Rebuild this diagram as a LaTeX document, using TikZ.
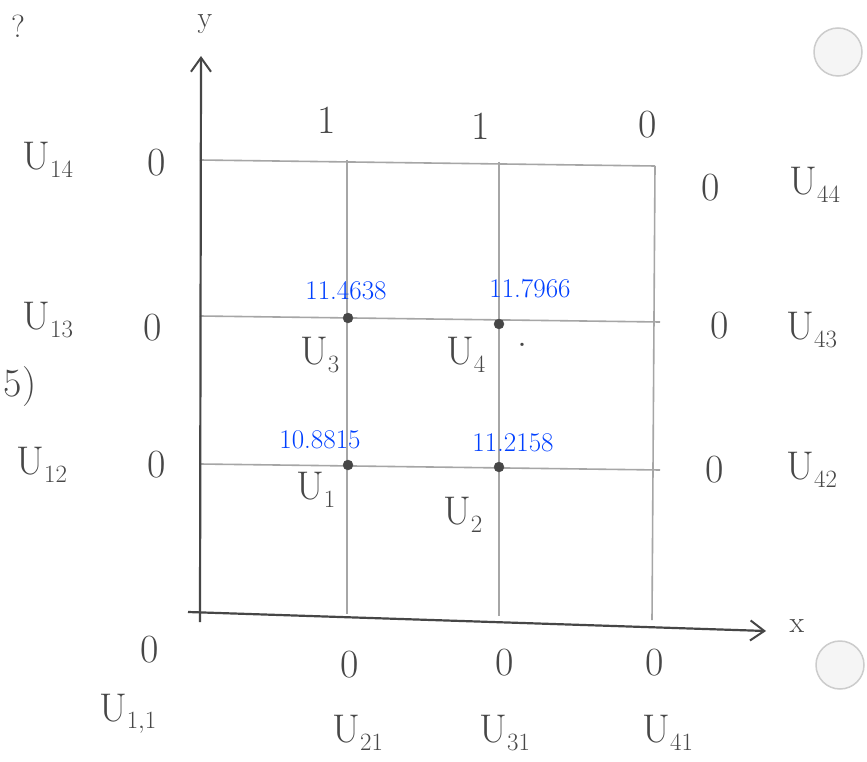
\documentclass[tikz,border=0pt]{standalone}
\usepackage{fontspec}
\usetikzlibrary{arrows.meta}
\begin{document}
\begin{tikzpicture}[x=1pt,y=-1pt,
  gridline/.style={draw=gray!70, line width=1.6pt},
  axisline/.style={draw=gray!55!black, line width=2.2pt, -{Straight Barb[length=14pt,width=20pt,line width=2pt]}},
  lab/.style={font=\fontsize{40}{40}\selectfont, text=black!72, inner sep=0},
  val/.style={font=\fontsize{27}{27}\selectfont, text=blue!75!cyan, inner sep=0},
  gpt/.style={circle, fill=gray!55!black, draw=black!70, inner sep=0, minimum size=10pt},
  hole/.style={circle, draw=gray!40, fill=gray!8, line width=1.5pt, minimum size=48pt, inner sep=0}]
\useasboundingbox (0,0) rectangle (867,762);
\fill[white] (0,0) rectangle (867,762);
% grid coordinates
\coordinate (a0) at (200,160); \coordinate (a1) at (347,160); \coordinate (a2) at (499,162); \coordinate (a3) at (655,166);
\coordinate (b0) at (200,316); \coordinate (b3) at (660,322);
\coordinate (c0) at (200,464); \coordinate (c3) at (660,470);
\coordinate (d1) at (347,614); \coordinate (d2) at (499,616); \coordinate (d3) at (652,620);
\coordinate (ystart) at (200,622); \coordinate (ytip) at (201,56);
\coordinate (xstart) at (188,612); \coordinate (xtip) at (766,631);
% grid lines
\draw[gridline] (a0) -- (a3);
\draw[gridline] (b0) -- (b3);
\draw[gridline] (c0) -- (c3);
\draw[gridline] (a1) -- (d1);
\draw[gridline] (a2) -- (d2);
\draw[gridline] (a3) -- (d3);
% axes
\draw[axisline] (ystart) -- (ytip);
\draw[axisline] (xstart) -- (xtip);
\node[lab, font=\fontsize{30}{30}\selectfont] (ylab) at (205,24) {y};
\node[lab, font=\fontsize{30}{30}\selectfont] (xlab) at (797,626) {x};
% grid points
\node[gpt] (p3) at (348,318) {};
\node[gpt] (p4) at (499,324) {};
\node[gpt] (p1) at (348,465) {};
\node[gpt] (p2) at (499,467) {};
% values
\node[val] (v3) at (346,291) {11.4638};
\node[val] (v4) at (530,289) {11.7966};
\node[val] (v1) at (320,440) {10.8815};
\node[val] (v2) at (513,443) {11.2158};
% unknown names
\node[lab] (u3) at (320,355) {U$_3$};
\node[lab] (u4) at (466,355) {U$_4$};
\node[lab] (dot) at (522,345) {.};
\node[lab] (u1) at (316,490) {U$_1$};
\node[lab] (u2) at (463,515) {U$_2$};
% top boundary values
\node[lab] (t1) at (327,120) {1};
\node[lab] (t2) at (481,126) {1};
\node[lab] (t3) at (648,125) {0};
% left boundary
\node[lab] (l4) at (157,163) {0};
\node[lab] (l3) at (153,328) {0};
\node[lab] (l2) at (157,465) {0};
\node[lab] (U14) at (48,160) {U$_{14}$};
\node[lab] (U13) at (48,320) {U$_{13}$};
\node[lab] (U12) at (42,465) {U$_{12}$};
% right boundary
\node[lab] (r4) at (711,188) {0};
\node[lab] (r3) at (720,326) {0};
\node[lab] (r2) at (715,470) {0};
\node[lab] (U44) at (815,185) {U$_{44}$};
\node[lab] (U43) at (812,330) {U$_{43}$};
\node[lab] (U42) at (812,470) {U$_{42}$};
% bottom boundary
\node[lab] (c0z) at (150,650) {0};
\node[lab] (bz2) at (350,665) {0};
\node[lab] (bz3) at (505,663) {0};
\node[lab] (bz4) at (655,663) {0};
\node[lab] (U11) at (128,714) {U$_{1,1}$};
\node[lab] (U21) at (358,733) {U$_{21}$};
\node[lab] (U31) at (505,733) {U$_{31}$};
\node[lab] (U41) at (668,733) {U$_{41}$};
% fragments at left edge
\node[lab, font=\fontsize{32}{32}\selectfont] (frag1) at (18,26) {?};
\node[lab] (frag2) at (20,387) {5)};
% punched holes
\node[hole] (h1) at (838,52) {};
\node[hole] (h2) at (840,665) {};
\end{tikzpicture}
\end{document}
